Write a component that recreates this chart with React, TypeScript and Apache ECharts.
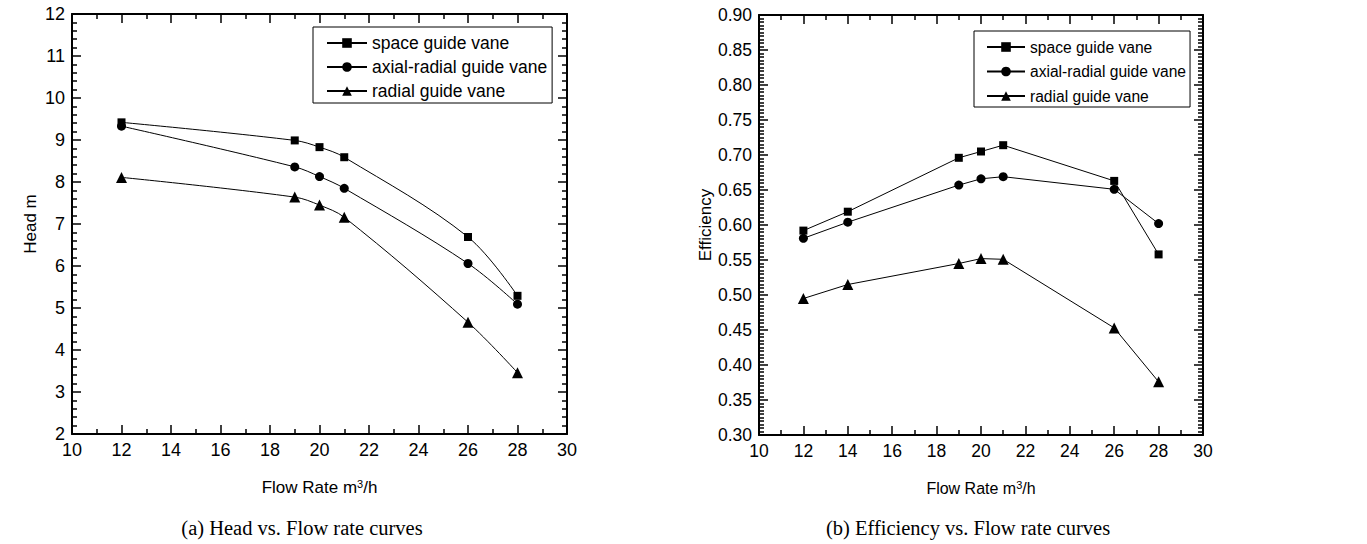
import React, { useEffect, useRef } from "react";
import * as echarts from "echarts";

const seriesNames = ["space guide vane", "axial-radial guide vane", "radial guide vane"];
const symbols = ["rect", "circle", "triangle"];
const symbolSizes = [8, 9, 11];

const headFlow = [12, 19, 20, 21, 26, 28];
const headSpace = [9.42, 8.99, 8.83, 8.59, 6.69, 5.29];
const headAxial = [9.33, 8.36, 8.13, 7.85, 6.06, 5.09];
const headRadial = [8.11, 7.64, 7.45, 7.16, 4.66, 3.46];

const effFlow = [12, 14, 19, 20, 21, 26, 28];
const effSpace = [0.592, 0.619, 0.696, 0.705, 0.714, 0.663, 0.558];
const effAxial = [0.581, 0.604, 0.657, 0.666, 0.669, 0.651, 0.602];
const effRadial = [0.495, 0.515, 0.545, 0.552, 0.551, 0.453, 0.376];

const captionA = "(a) Head vs. Flow rate curves";
const captionB = "(b) Efficiency vs. Flow rate curves";

const FONT = "'Liberation Sans', Arial, sans-serif";
const SERIF = "'Liberation Serif', 'Times New Roman', serif";

const zip = (xs: number[], ys: number[]) => xs.map((x, i) => [x, ys[i]]);

const tickCommon = (minorSplit: number, showLabel: boolean, fontSize: number, fmt?: (v: number) => string) => ({
  axisLine: { show: true, onZero: false, lineStyle: { color: "#000", width: 2 } },
  axisTick: { show: true, inside: true, length: 9, lineStyle: { color: "#000", width: 1.5 } },
  minorTick: { show: true, splitNumber: minorSplit, length: 5, lineStyle: { color: "#000", width: 1.5 } },
  splitLine: { show: false },
  minorSplitLine: { show: false },
  axisLabel: {
    show: showLabel,
    color: "#000",
    fontFamily: FONT,
    fontSize,
    margin: 7,
    formatter: fmt,
  },
});

const richName = (fs: number) => ({
  a: { fontFamily: FONT, fontSize: fs, color: "#000" },
  sup: { fontFamily: FONT, fontSize: 11, color: "#000", verticalAlign: "top", padding: [0, 0, 8, 0] },
});

export default function App() {
  const ref = useRef<HTMLDivElement>(null);
  useEffect(() => {
    if (!ref.current) return;
    const chart = echarts.init(ref.current, undefined, { renderer: "svg" });
    const grids = [
      { left: 72, top: 14, width: 495, height: 420 },
      { left: 759, top: 15, width: 444, height: 420 },
    ];
    const xAxisBase = (gi: number, showLabel: boolean, pos: string, fs: number) => ({
      type: "value",
      gridIndex: gi,
      position: pos,
      min: 10,
      max: 30,
      interval: 2,
      ...tickCommon(2, showLabel, fs),
    });
    const xAxis: any[] = [
      {
        ...xAxisBase(0, true, "bottom", 18),
        name: "{a|Flow Rate m}{sup|3}{a|/h}",
        nameLocation: "middle",
        nameGap: 44,
        nameTextStyle: { rich: richName(17) },
      },
      xAxisBase(0, false, "top", 18),
      {
        ...xAxisBase(1, true, "bottom", 17.5),
        name: "{a|Flow Rate m}{sup|3}{a|/h}",
        nameLocation: "middle",
        nameGap: 44,
        nameTextStyle: { rich: richName(16) },
      },
      xAxisBase(1, false, "top", 17.5),
    ];
    const yHead = (showLabel: boolean, pos: string) => ({
      type: "value",
      gridIndex: 0,
      position: pos,
      min: 2,
      max: 12,
      interval: 1,
      ...tickCommon(5, showLabel, 18),
    });
    const yEff = (showLabel: boolean, pos: string) => ({
      type: "value",
      gridIndex: 1,
      position: pos,
      min: 0.3,
      max: 0.9,
      interval: 0.05,
      ...tickCommon(10, showLabel, 17.5, (v: number) => v.toFixed(2)),
    });
    const yAxis: any[] = [
      {
        ...yHead(true, "left"),
        name: "Head m",
        nameLocation: "middle",
        nameGap: 33,
        nameTextStyle: { fontFamily: FONT, fontSize: 17, color: "#000" },
      },
      yHead(false, "right"),
      {
        ...yEff(true, "left"),
        name: "Efficiency",
        nameLocation: "middle",
        nameGap: 35,
        nameTextStyle: { fontFamily: FONT, fontSize: 17, color: "#000" },
      },
      yEff(false, "right"),
    ];
    const mk = (i: number, xi: number, yi: number, data: number[][], smooth: any) => ({
      type: "line",
      name: seriesNames[i],
      xAxisIndex: xi,
      yAxisIndex: yi,
      data,
      smooth,
      symbol: symbols[i],
      symbolSize: symbolSizes[i],
      showAllSymbol: true,
      lineStyle: { color: "#000", width: 1 },
      itemStyle: { color: "#000" },
      emphasis: { disabled: true },
    });
    const series = [
      mk(0, 0, 0, zip(headFlow, headSpace), 0.35),
      mk(1, 0, 0, zip(headFlow, headAxial), 0.35),
      mk(2, 0, 0, zip(headFlow, headRadial), 0.35),
      mk(0, 2, 2, zip(effFlow, effSpace), false),
      mk(1, 2, 2, zip(effFlow, effAxial), false),
      mk(2, 2, 2, zip(effFlow, effRadial), false),
    ];
    const legendBase = {
      orient: "vertical",
      data: seriesNames,
      itemWidth: 40,
      itemHeight: 12,
      borderColor: "#000",
      borderWidth: 1,
      selectedMode: false,
    };
    chart.setOption({
      animation: false,
      backgroundColor: "#fff",
      grid: grids,
      xAxis,
      yAxis,
      series,
      legend: [
        {
          ...legendBase,
          left: 313,
          top: 27,
          itemGap: 4,
          padding: [6, 5, 2, 13],
          textStyle: { fontFamily: FONT, fontSize: 17.5, color: "#000", lineHeight: 20 },
        },
        {
          ...legendBase,
          left: 974,
          top: 31,
          itemWidth: 38,
          itemGap: 4.5,
          padding: [6, 4, 1, 12],
          textStyle: { fontFamily: FONT, fontSize: 15.6, color: "#000", lineHeight: 20 },
        },
      ],
      graphic: [
        {
          type: "text",
          x: 302,
          y: 528,
          style: {
            text: captionA,
            font: `20.5px ${SERIF}`,
            fill: "#000",
            align: "center",
            verticalAlign: "middle",
          },
        },
        {
          type: "text",
          x: 968,
          y: 528,
          style: {
            text: captionB,
            font: `20.5px ${SERIF}`,
            fill: "#000",
            align: "center",
            verticalAlign: "middle",
          },
        },
      ],
    });
    return () => chart.dispose();
  }, []);
  return (
    <div
      ref={ref}
      style={{ position: "absolute", left: 0, top: 0, width: 1367, height: 544 }}
    />
  );
}
